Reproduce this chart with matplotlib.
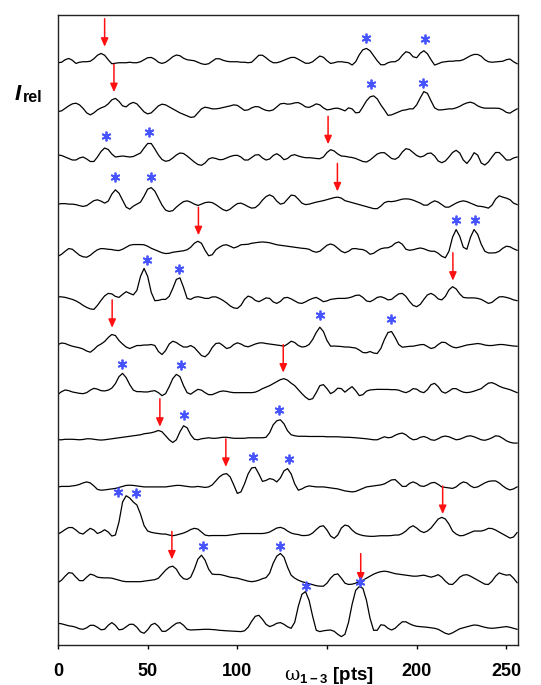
import numpy as np
import matplotlib
matplotlib.use('Agg')
import matplotlib.pyplot as plt
from matplotlib.transforms import blended_transform_factory

plt.rcParams['font.family'] = ['Liberation Sans', 'DejaVu Sans']
plt.rcParams['mathtext.fontset'] = 'custom'
plt.rcParams['mathtext.rm'] = 'DejaVu Serif'
plt.rcParams['mathtext.it'] = 'DejaVu Serif:italic'
plt.rcParams['mathtext.bf'] = 'Liberation Sans:bold'

# ---- data: traces sampled every 2 pts from 0 to 256 (relative intensity) ----
x_step = 2
T1 = [0, 0.5, 3, 4.3, 2.5, -0.7, 0.5, 1, 1, 1.5,
      4, 7.5, 9.3, 7.5, 3, -1, -0.5, 0, 0, 0,
      0.5, 0, 0, 1, 3, 5, 5.3, 3.5, 0.5, -0.7,
      0.5, 3, 6, 7.7, 7, 4.5, 3, 2.5, 2, 0.5,
      -1, -1.7, -1, 1.5, 4, 4, 2.5, 1.5, 1, 1,
      1, 0.5, 0.5, 0, 0.5, 4, 7.5, 7.5, 5, 2,
      0, 0, 1, 2.5, 4, 5.3, 5.3, 3.5, 1.5, -0.5,
      -0.5, 1, 4, 6.7, 5.5, 2, -0.7, 0, 1, 1,
      0.5, 0, -2.3, 1, 8, 13, 14.3, 12, 7, 2,
      -2, -2, 0, 1, 1, 3, 7.5, 11, 10, 6,
      5, 9.5, 12, 9, 3, -2.3, -1, 0.5, 1, 1.5,
      1.5, 2, 2, 3, 5, 7, 8.3, 8.3, 6.5, 3,
      1, 0.5, 0.8, 1, 1.5, 3, 3.7, 1, -1]
T2 = [-1.7, -1, 1.5, 4, 6, 6.7, 5, 1.5, -3, -5,
      -3, 0, 2, 3.3, 6, 10, 11.5, 8.5, 4, 3,
      6, 7.5, 6, 2, -2, -4, -3, 0.5, 4, 5.7,
      5, 3, 1, -1, -3, -4.5, -6, -7.5, -7, -3,
      1, 2.7, 2, 1, 1, 1.5, 2.3, 3, 4, 5,
      4.5, 2, -0.5, 0, 2, 3.3, 3, 1, -0.5, -1,
      0, 3, 6, 6.5, 5.7, 6, 7, 7.3, 5.5, 3,
      2.5, 4, 6, 5, 2, 0, 0.5, 1.5, 1.7, 0.5,
      -1, 2, 1, -3, -2.5, 3, 9, 13, 14, 11,
      5, 0, -5.5, -5, -3.5, -2, -0.5, 0, 1, 1,
      5, 12, 18.3, 16.5, 9, 2, 0, 0, 0.5, 1,
      1, 2, 3.5, 5.5, 7, 7.7, 6.5, 4, 2.5, 1.7,
      1.7, 1.7, 1.7, 1.5, 0, -2.5, -3.3, -1, 1]
T3 = [2, 1.5, 0, -1.5, -3, -3, -1, 0, -2, -4.5,
      -4.5, 0, 5.5, 9, 7.5, 3, 0, 0.5, 1, 0.5,
      0, 0.5, 2.3, 4, 9, 13.5, 13.5, 8, 2, -2.5,
      -4.3, -3.5, -1, 2, 4, 3.5, 1, -2, -5, -7.5,
      -8.3, -6, -2, -0.7, -1.5, -2.7, -2.5, -1, 0.5, 1.5,
      1.7, 0, -3, -3, -0.5, 2, 2.3, -1, -3, -2,
      1.5, 3.3, 1, -2.7, -1.5, 1.5, 2.3, 1, 0, -0.7,
      -0.7, -1, -1.5, -1.7, 0, 4.5, 7.3, 6, 3, 1,
      0.7, 0, -0.5, -1.5, -3, -4.5, -5, -3, 0, 3,
      4.3, 4.3, 1.5, -1.5, -2.3, 0, 5, 8.3, 7.5, 4.5,
      1.5, 0, 1, 3.5, 4, 1, -4, -5.7, -4, 0,
      4.5, 6.7, 4, -3, -6.5, -2, 4.3, 2, -6, -8,
      -5, 0, 4.5, 4.5, 1, -3, -3, -1, 0]
T4 = [0, 0.5, 0.5, 0, 0, -0.5, -1.5, -2.3, -1.5, 1,
      3.5, 4.3, 3, 1, 3, 10, 14.3, 11, 4, -3,
      -5, -2, 0, 2, 8, 15, 16.5, 13, 6, -1,
      -6, -7.3, -6.5, -3, 0, 2.5, 3.3, 2, 0, -1.3,
      0, 1.5, 2, 1.5, -0.5, -3, -5.5, -6.7, -5, -2,
      0.5, 1, -0.5, -2.5, -4, -3.5, -0.5, 4, 7.5, 9.3,
      7.5, 3, 0, 1, 5, 9, 8.5, 5, 1, -0.5,
      0, 1, 2, 2.7, 3.5, 4.5, 5.5, 6.5, 7, 6,
      3.5, 2.5, 1.5, 0.5, -0.5, -1.5, -2.5, -3.5, -4.5, -4.5,
      -2, 1.5, 2.7, 2.5, 3, 4, 5, 5.3, 5, 4,
      2.5, 1, -1, -1, 1.5, 3.3, 2, -0.5, -3, -3,
      -1, 1, 2.5, 3.3, 2.5, 1, -0.5, -2, -2.3, -3,
      -4, -1, 5, 8.3, 7, 6, 4.5, 1, -0.5]
T5 = [-5, -3, 0, 2.7, 2, -1, -4, -5.5, -6, -4,
      -1, 1.5, 2.7, 2.5, 2, 1.7, 1, 0.7, 2, 4,
      6, 6.7, 6.7, 6.7, 6.5, 5, 3, 1.5, 0, -1.5,
      -2.3, -2, -1, -0.5, 0, 0.5, 1.5, 4, 8, 10,
      8, 1, -4.5, -3.5, 1.5, 4, 6, 6.5, 5, 3.3,
      4.5, 6.5, 6.7, 7, 8, 8.5, 9, 9.3, 9, 8.5,
      7.5, 6.5, 6, 5.5, 5, 4.5, 4, 3.5, 3, 2.7,
      2, 0, -1, 0, 3, 6, 7.3, 6, 3, 0,
      -1.5, 0, 2.5, 2.7, 2, 1.7, 0, -3, -2, 0.5,
      2.5, 3.3, 3.5, 5, 8, 9.3, 7, 2, 1, 1.5,
      2.5, 3.3, 2.5, 1, 0, 0, -2, -5, -6.5, 0,
      14, 21.7, 15, 4, 2, 14, 21.7, 17, 7, 0,
      -1.7, -1.7, -1.5, 0, 3, 5, 4.5, 2.5, 1]
T6 = [1.7, 1.5, 1, 0, -1, -2.5, -4.5, -7, -9, -10.5,
      -11, -7, -2, 2.5, 5, 4.5, 2, 1, 4, 6.7,
      5, 3.5, 8, 22, 30, 22, 6, -2.3, -2, -1,
      -1, 2, 10, 19, 20.5, 11, 0, -1, 1, 1.7,
      1, 0, 0, 1.5, 1.5, 0, -2, -4.5, -7.5, -9.5,
      -10, -7, -1, 2.3, 1, -2, -3.3, -1.5, 0.5, 0,
      -3.5, -5, -3, 0.5, 1, -0.5, -2.5, -4.5, -5, -3.5,
      -1.5, 0, 1, -1, -3.3, -2.5, -1, -0.5, 0, 0,
      0, 0.5, 1.5, 3, 3.3, 1, -2.5, -3.3, -1.5, 1,
      1.7, 0.5, -1.5, -1, 2, 4.5, 5, 2, -3, -7,
      -8.3, -6, -1, 3.5, 5, 3, -0.5, -1.5, 2, 8.5,
      11.7, 9.5, 4.5, 1, 0.5, 0.5, 0.5, 0, -1, -3,
      -5, -4, -1, 1.5, 1.7, 1, 0, -1.5, -2.3]
T7 = [1, 2.5, 2, 0.5, -0.7, -1.5, -2.3, -3.5, -5.5, -6.7,
      -4, -0.5, 1.5, 4, 8, 11, 10, 5, 1.5, -1.5,
      -3, -1.5, 0, 0, 0.5, 0.5, 1, 0, -6, -9,
      -5, 1.5, 4.3, 3, 0.5, -1.5, -1.5, 0, -2, -6,
      -10, -11.3, -8, -2, 2, 2.5, 0, -3, -2, 1,
      2.7, 1.5, -0.5, -1.3, 0, 1.5, 2.5, 2.7, 2, 1.5,
      1, 0.5, 0, -0.7, 1.5, 4.3, 3, 0, -1.5, -1,
      1, 6, 13, 18.3, 14, 5, -0.7, -0.5, -0.7, -1,
      -1.5, -1.5, -2, -2.5, -4.5, -7, -7.3, -6, -7.5, -8,
      -3, 6, 13, 14, 8, 1, -1.7, -1.2, -0.8, -0.7,
      0, 0.8, 1, -1, -3, -2, 1, 3.3, 3, 0.5,
      -1.5, -2.3, -1.5, -0.5, 0.5, 1, 1.5, 2, 1.5, 0.5,
      0, 0, 0.5, 1, 1, 0.5, 0, -0.5, -0.7]
T8 = [-1.7, 1, 2.7, 2, 0.7, 0, -0.7, -1, 0, 2.5,
      4.3, 3.5, 2, 1.7, 2.5, 4.5, 9, 16, 19.3, 15,
      8, 2.5, 1, 1, 0.7, 0.7, 1.5, 2, 0, -3,
      -1, 6, 14, 18.3, 16, 7, 0, -1.5, 1, 3.3,
      2.5, 0, -2, -2, -0.5, 1, 1.7, 1.3, 0.5, 0,
      0, 0, 0, 0, 0, 0.5, 2, 4, 5.5, 7,
      9, 11, 13, 14, 12.5, 9.5, 7, 3, -1, -4.5,
      -7, -6, 0, 7, 8, 4, -1, 1, 4.5, 4,
      0.5, 3.5, 6, 2, -3, -2, 1.5, 2.7, 3, 3.3,
      3.3, 3.3, 3.2, 3, 3, 2.5, 1, 0, 1.5, 4,
      3.5, 1, 0, 3, 8, 9.3, 6, 1, -0.5, 1.5,
      4, 4, 2, 0.5, 0, 0.5, 1.5, 2.7, 4, 7,
      9.5, 10, 8.5, 6.5, 5, 4, 3, 1.5, 0]
T9 = [0, 0, 0.5, 0.5, 0.5, 0.3, 0, 0.3, 1, 1,
      0.5, 0, -0.3, 0, 0.5, 1, 1.5, 2, 2.5, 3,
      3.5, 4, 4.5, 5, 6, 6.5, 7, 8, 9.3, 8,
      4, 0, -2.7, 0, 8, 14, 12, 5, 0.5, 0,
      1, 1.5, 2, 1.5, 1.5, 2, 2.5, 2.5, 2, 1.5,
      1.5, 1.5, 1.5, 2, 2, 2, 2, 2, 2.5, 7,
      15, 19, 20, 16, 9, 5, 4, 3.5, 3.5, 3.5,
      3.3, 3.3, 3.3, 3.3, 3.3, 3, 3, 3, 3, 2.7,
      2.5, 2.5, 2.3, 2, 1.7, 1.5, 1, 0.5, 0, 0,
      1.5, 3, 2, 2.5, 4.5, 6, 6.7, 5, 2, 0,
      0.5, 2.5, 3.3, 2, 0, -0.5, 1, 3, 3.7, 3,
      1.5, 0, 0.5, 2, 3.5, 4, 3, 1.5, 0, -0.5,
      0.5, 2, 4, 3.5, 1.5, -1, -2.5, -3.3, -3.3]
T10 = [0, 0.5, 0.5, 0.5, 1, 1.5, 2.5, 4, 5, 4,
       1, -2.5, -3.3, -3, -2.5, -2, -1.5, -0.5, 0.5, 1.5,
       1.7, 1.5, 1, 0.5, 0, 0, 0, 0, 0, 0,
       0, 0.5, 1, 1.5, 1.5, 1, 0.5, 0, 0, 0.5,
       0, -0.5, 0, 2, 6, 10, 12.5, 13.3, 10, 2,
       -6.5, -5, 3, 13, 19, 19.5, 13, 5.5, 6.5, 8.3,
       7.5, 5, 9, 16, 18.3, 13, 3, -3.3, -2, 0,
       1, 0.5, 0, 0, 0, -0.5, -1, -1.5, -2, -3,
       -4, -4.5, -5, -4.5, -3, -1.5, 0, 0.5, 1, 1.5,
       2, 3, 5, 7, 7.3, 4, 0.5, 0.5, 3.5, 5,
       3.5, 1, 0.5, 2, 4, 4.5, 2.5, 0, -0.5, -1,
       -1.5, 0, 3, 5, 4, 1, -0.7, 0, 2, 4,
       5.5, 6, 6, 4, 1, -1.5, -3, -2, 0]
T11 = [0, 2, 4.5, 6.5, 6.5, 4, 1, 0, 3, 5.7,
       4, 0.5, 2, 4.3, 2, -2, -1, 12, 32, 38.3,
       36, 32, 29, 20, 8.5, 3, 1.7, 1, 0.5, 0,
       0, -1, -1.7, -1, 0, 1, 2.5, 4.5, 5.7, 5,
       2, -1, -1.7, -1.5, -1.5, -1.5, -1.5, -1.5, -1, -0.5,
       0, 0.5, 0.5, 0.5, 0.5, 0.5, 0.5, 0.5, 1, 2,
       4, 6, 6.7, 5.5, 3, 1, 0, -0.5, -1.5, -1.5,
       -1, 1, 4.5, 7.5, 8.3, 4, -2, -4.3, -1, 6,
       9, 8, 4, 1, -0.5, -1.5, -2, -2.3, -2.3, -2,
       -1.7, -1.7, -1.7, -1.5, -1, -1, 0.5, 3, 6.5, 8.3,
       6, 3, 1.5, 3, 6, 10.5, 15, 16.7, 15, 10,
       3, 0, -1.7, -1.5, 0, 1.5, 3, 3, 3, 4,
       5.7, 5.5, 4, 2, 0, -2, -4, -3, 1.5]
T12 = [-1.5, 1, 5, 8.5, 8, 4, 0.5, 0.5, 4, 7,
       6, 4, 3.5, 3.3, 3.3, 3, 2, 1, 0, -0.5,
       -0.5, -0.5, -0.5, -0.5, 0, 0.5, 1, 1.5, 3, 7,
       11, 14, 15, 12, 6, 2.5, 1.7, 4, 12, 22,
       26, 21, 12, 7, 6.7, 6.7, 6, 5, 4, 3.5,
       3, 2, 1, 0, -0.5, 0, 1, 2.5, 3.5, 8,
       18, 25, 27.7, 24, 14, 6, 3, 1, -0.5, -1.5,
       -2.5, -3.5, -4.5, -5, -5, -2, 3, 6.5, 7.3, 3,
       -2, -3.3, -3, -2, -0.5, 1, 3, 5, 7, 8.5,
       9.5, 10, 9.5, 8.5, 7.5, 7, 6.5, 6, 5.5, 5,
       5, 5.5, 6, 5, 4, 5, 6.5, 4, 0, -3,
       -3.3, 0, 4, 6, 6.5, 5, 3, 1, -1, -3,
       -3.3, 0, 5, 8.3, 7, 6, 6.5, 3, -1.5]
T13 = [5, 4.5, 3.5, 2.5, 2, 1, -0.5, -1, 0.5, 3,
       3, 1, -1.5, -1, 3, 5.7, 3, -1.5, -1, 1.5,
       4, 4, 1, -3.5, -5, -1.5, 3.5, 5, 2, -3,
       -3, -0.5, 2.5, 5, 5.7, 3, -1, -1.7, -1.5, -1.2,
       -1, -1, -1, -1.2, -1.5, -2, -2.3, -2.5, -2.7, -3,
       -3.2, -3.3, -2.5, 1, 7, 12, 13, 9, 4, 1.7,
       3, 5, 5.7, 4, 1.5, 0, 6, 22, 34, 36.7,
       28, 12, -2, -3.3, -2.5, -2, -1.7, -3, -6, -8.3,
       -6, 6, 24, 38, 41.7, 40, 28, 10, -2, -2,
       3.5, 3, 0, -1.7, 0, 3.5, 6.5, 6.5, 4.5, 3,
       2, 1.7, 1.5, 1, 0.5, 0, -1, -3, -5, -6,
       -4.5, -2.5, -0.5, 0.5, 1.5, 2.5, 3.3, 3, 2, 1,
       0.3, 0, 0.3, 0.8, 1.3, 1.7, 1, 0, -1]
traces = [T1, T2, T3, T4, T5, T6, T7, T8, T9, T10, T11, T12, T13]

# red arrows: one per trace (x position, tip height above the trace baseline)
arrow_x = [26, 31.2, 150.6, 155.8, 78.3, 220.2, 30.2, 125.6, 56.8, 93.6, 214.5, 63.5, 168.8]
arrow_tip = [16, 17.7, 12.7, 12.7, 16, 17.7, 17.7, 20, 13, 20, 20, 21.7, 46.7]

# blue asterisks (trace index, x position, height above baseline)
ast_trace = [0, 0, 1, 1, 2, 2, 3, 3, 4, 4, 5, 5, 6, 6, 7, 7, 8, 8, 9, 9, 10, 10, 11, 11, 12, 12]
ast_x = [171.6, 204.5, 174.4, 203.7, 26.5, 50.6, 31.9, 51.8, 221.7, 232.8, 49.7, 67.5,
         146.2, 185.9, 35.8, 68.6, 70.5, 123.5, 108.6, 128.7, 33.4, 43.5, 80.8, 123.7,
         138.2, 168.2]
ast_h = [24.4, 23.7, 25.7, 26.7, 21, 25.3, 27, 27, 31, 31, 38.4, 29.4, 30.4, 27, 28.3,
         27.6, 25, 29.3, 30, 27.7, 42.3, 41, 35, 35, 42.6, 46.7]

xtick_pos = [0, 50, 100, 150, 200, 250]
xtick_labels = ['0', '50', '100', '', '200', '250']

# ---- figure ----
spacing = 47.13
arrow_len = 28
n = len(traces)

fig = plt.figure(figsize=(5.41, 6.85), dpi=100)
ax = fig.add_axes([58 / 541, 40 / 685, 460 / 541, 630 / 685])


def baseline(i):
    return (n - 1 - i) * spacing


for i, v in enumerate(traces):
    xs = np.arange(len(v)) * x_step
    ax.plot(xs, np.asarray(v) + baseline(i), color='black', lw=0.9, zorder=2)

for i, (xa, tip) in enumerate(zip(arrow_x, arrow_tip)):
    yb = baseline(i) + tip
    ax.annotate('', xy=(xa, yb), xytext=(xa, yb + arrow_len),
                arrowprops=dict(arrowstyle='-|>,head_length=0.5,head_width=0.22',
                                color='#ff1010', lw=1.1, shrinkA=0, shrinkB=0,
                                mutation_scale=10), zorder=3)

ay = [baseline(t) + h for t, h in zip(ast_trace, ast_h)]
ax.plot(ast_x, ay, ls='none', marker=(6, 2, 0), ms=7, mew=1.3,
        color='#4654ff', zorder=4)

ax.set_xlim(0, 256.5)
ax.set_ylim(-16.7, 613.3)
ax.set_yticks([])
ax.set_xticks(xtick_pos)
ax.set_xticklabels(xtick_labels, fontweight='bold', fontsize=13)
ax.tick_params(axis='x', direction='out', length=3, width=1, pad=10)
for s in ax.spines.values():
    s.set_linewidth(1.0)
    s.set_color('#222222')

trans = blended_transform_factory(ax.transData, ax.transAxes)
ax.text(151, -0.049, r'$\mathrm{\omega}_{\mathbf{1-3}}$ [pts]', transform=trans,
        ha='center', va='center', fontsize=13.5, fontweight='bold')

fig.text(15 / 541, 1 - 100 / 685, 'I', fontsize=16, fontweight='bold',
         fontstyle='italic', va='baseline', ha='left')
fig.text(23 / 541, 1 - 102 / 685, 'rel', fontsize=11.5, fontweight='bold',
         va='baseline', ha='left')

fig.savefig('out.png', dpi=100)
